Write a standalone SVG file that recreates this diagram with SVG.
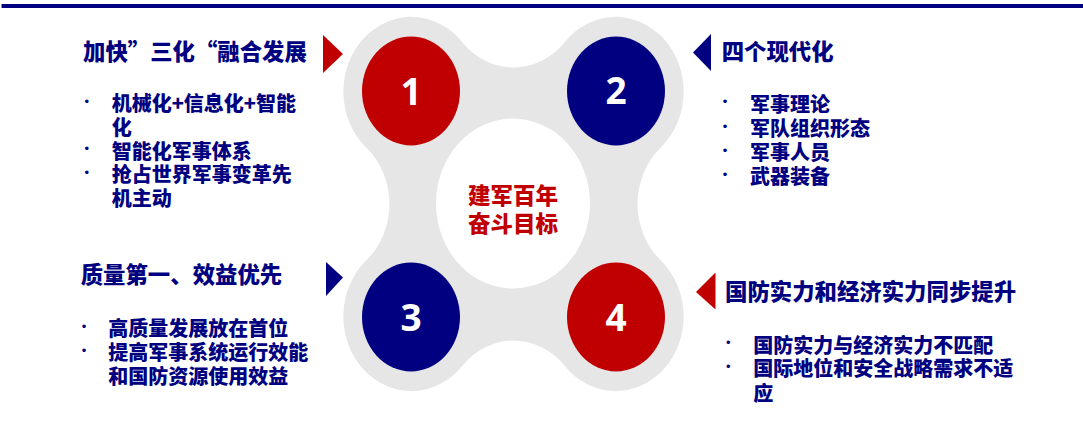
<svg xmlns="http://www.w3.org/2000/svg" width="1083" height="423" viewBox="0 0 1083 423">
<style>
.t{font-family:"Noto Sans CJK SC","Microsoft YaHei",sans-serif;font-weight:900;fill:#000080}
.h{font-size:22.4px}
.b{font-size:20px}
.dot{font-family:"Liberation Sans",sans-serif;font-size:13px;fill:#000080;text-anchor:middle}
.num{font-family:"Open Sans","Liberation Sans",sans-serif;font-weight:700;font-size:37px;fill:#fff;text-anchor:middle}
.red{fill:#C00000}
.blue{fill:#000080}
</style>
<rect x="1.5" y="4" width="1081.5" height="4" fill="#000080"/>
<g id="hub">
<path transform="translate(513.5 204) scale(1 1.1)" fill="#E6E6E6" d="M -51.3 -147.3 A 68.2 68.2 0 0 0 51.3 -147.3 A 68 68 0 1 1 147.3 -51.3 A 68.2 68.2 0 0 0 147.3 51.3 A 68 68 0 1 1 51.3 147.3 A 68.2 68.2 0 0 0 -51.3 147.3 A 68 68 0 1 1 -147.3 51.3 A 68.2 68.2 0 0 0 -147.3 -51.3 A 68 68 0 1 1 -51.3 -147.3 Z"/>
<ellipse cx="513" cy="203.5" rx="77" ry="85" fill="#fff"/>
<text class="t" font-size="22.5" style="fill:#C00000" text-anchor="middle" x="513" y="204">建军百年</text>
<text class="t" font-size="22.5" style="fill:#C00000" text-anchor="middle" x="513" y="231.5">奋斗目标</text>
</g>
<g id="n1">
<ellipse class="red" cx="411" cy="91" rx="49" ry="54.5"/>
<text class="num" x="411" y="104.5">1</text>
</g>
<g id="n2">
<ellipse class="blue" cx="616" cy="91" rx="49" ry="54.5"/>
<text class="num" x="616" y="104">2</text>
</g>
<g id="n3">
<ellipse class="blue" cx="411" cy="317" rx="49" ry="54.5"/>
<text class="num" x="411" y="330.5">3</text>
</g>
<g id="n4">
<ellipse class="red" cx="616" cy="317" rx="49" ry="54.5"/>
<text class="num" x="616" y="330.5">4</text>
</g>
<g id="block1">
<polygon class="red" points="323,35 343,54 323,73"/>
<text class="t h" x="83" y="59.6">加快”三化“融合发展</text>
<text class="dot" x="86.7" y="106">•</text>
<text class="t b" x="111.7" y="111.4">机械化+信息化+智能</text>
<text class="t b" x="111.7" y="135">化</text>
<text class="dot" x="86.7" y="153.2">•</text>
<text class="t b" x="111.7" y="158.6">智能化军事体系</text>
<text class="dot" x="86.7" y="176.8">•</text>
<text class="t b" x="111.7" y="182.2">抢占世界军事变革先</text>
<text class="t b" x="111.7" y="205.8">机主动</text>
</g>
<g id="block2">
<polygon class="blue" points="711,34 693,52.5 711,71"/>
<text class="t h" x="721.7" y="60">四个现代化</text>
<text class="dot" x="725" y="106.4">•</text>
<text class="t b" x="750" y="111.8">军事理论</text>
<text class="dot" x="725" y="130.5">•</text>
<text class="t b" x="750" y="135.9">军队组织形态</text>
<text class="dot" x="725" y="154.6">•</text>
<text class="t b" x="750" y="160">军事人员</text>
<text class="dot" x="725" y="178.7">•</text>
<text class="t b" x="750" y="184.1">武器装备</text>
</g>
<g id="block3">
<polygon class="blue" points="326,262 343,277.5 326,296"/>
<text class="t h" x="80.7" y="282.6">质量第一、效益优先</text>
<text class="dot" x="84" y="330.7">•</text>
<text class="t b" x="108.3" y="336.1">高质量发展放在首位</text>
<text class="dot" x="84" y="354.7">•</text>
<text class="t b" x="108.3" y="360.1">提高军事系统运行效能</text>
<text class="t b" x="108.3" y="384.1">和国防资源使用效益</text>
</g>
<g id="block4">
<polygon class="red" points="715.5,272.5 696,292 715.5,309.5"/>
<text class="t h" x="725" y="300">国防实力和经济实力同步提升</text>
<text class="dot" x="728.3" y="347.2">•</text>
<text class="t b" x="753.3" y="352.6">国防实力与经济实力不匹配</text>
<text class="dot" x="728.3" y="370.7">•</text>
<text class="t b" x="753.3" y="376.1">国际地位和安全战略需求不适</text>
<text class="t b" x="753.3" y="400.6">应</text>
</g>
<g id="connectors"/>
</svg>
